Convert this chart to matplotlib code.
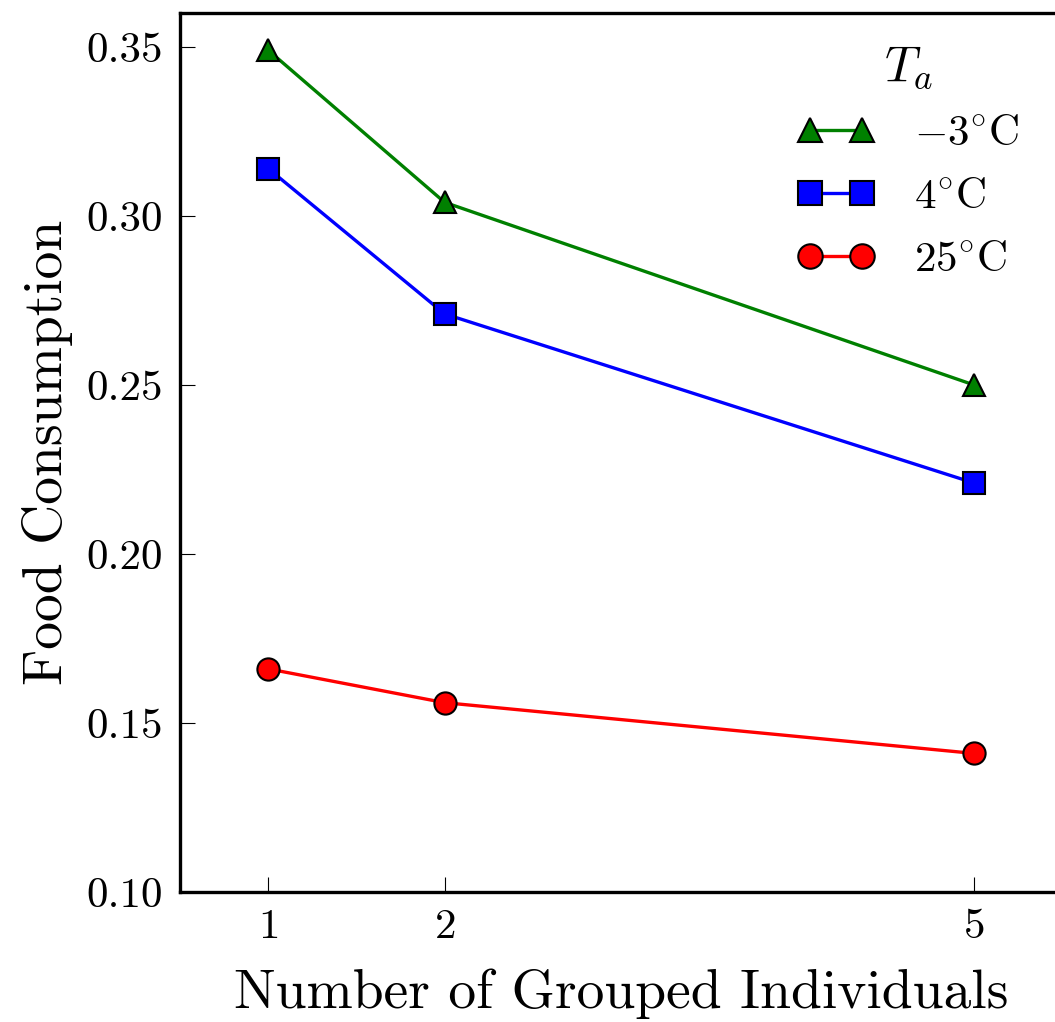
import matplotlib
matplotlib.use("Agg")
import matplotlib.pyplot as plt

plt.rcParams['font.family'] = 'serif'
plt.rcParams['font.serif'] = ['cmr10']
plt.rcParams['mathtext.fontset'] = 'cm'
plt.rcParams['axes.formatter.use_mathtext'] = True

# data
group_size = [1, 2, 5]
cons_m3 = [0.349, 0.304, 0.250]
cons_4 = [0.314, 0.271, 0.221]
cons_25 = [0.166, 0.156, 0.141]
labels = [r'$-3^{\circ}$C', r'$4^{\circ}$C', r'$25^{\circ}$C']
yticks = [0.10, 0.15, 0.20, 0.25, 0.30, 0.35]

fig = plt.figure(figsize=(10.55, 10.22), dpi=100)
ax = fig.add_axes([180/1055, 1 - 892/1022, 882/1055, (892 - 13)/1022])

ax.plot(group_size, cons_m3, '-^', color='g', lw=2.4, ms=16, mec='k', mew=1.5, label=labels[0])
ax.plot(group_size, cons_4, '-s', color='b', lw=2.4, ms=16, mec='k', mew=1.5, label=labels[1])
ax.plot(group_size, cons_25, '-o', color='r', lw=2.4, ms=16, mec='k', mew=1.5, label=labels[2])

ax.set_xlim(0.5, 5.5)
ax.set_ylim(0.10, 0.36)
ax.set_xticks(group_size)
ax.set_yticks(yticks)
ax.set_yticklabels(['%.2f' % v for v in yticks])

for s in ax.spines.values():
    s.set_linewidth(2.4)
ax.tick_params(direction='in', length=11, width=0.8, labelsize=31, pad=12,
               top=False, right=False)

ax.set_xlabel('Number of Grouped Individuals', fontsize=40, labelpad=16)
ax.set_ylabel('Food Consumption', fontsize=40, labelpad=10)

leg = ax.legend(title=r'$T_a$', loc='upper right', frameon=False, numpoints=2,
                fontsize=31, title_fontsize=36, handlelength=1.8, handletextpad=0.9,
                labelspacing=0.57, markerscale=1.1, bbox_to_anchor=(0.995, 1.009))

fig.savefig('out.png', dpi=100)
